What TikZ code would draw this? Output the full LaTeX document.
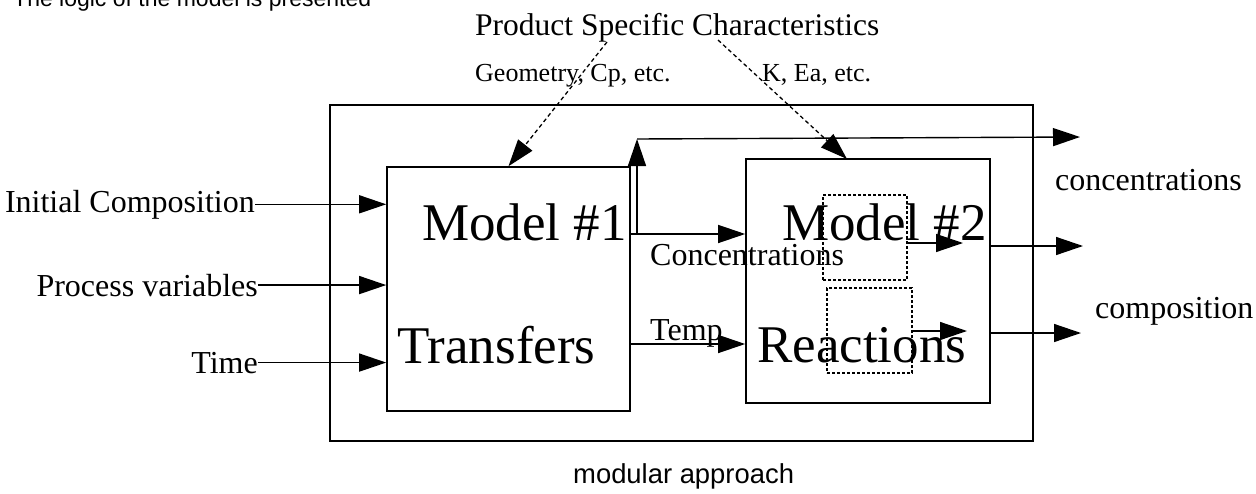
\documentclass[tikz,border=0pt]{standalone}
\usepackage{fontspec}
\setmainfont{Liberation Serif}
\newfontfamily\arialfont{Liberation Sans}
\usetikzlibrary{arrows.meta}
\tikzset{
  box/.style={draw, line width=1.6pt, inner sep=0pt},
  arr/.style={line width=1.4pt, -{Triangle[length=27pt,width=18pt]}},
  dasharr/.style={line width=1.3pt, dash pattern=on 4pt off 3pt, -{Triangle[length=27pt,width=18pt]}},
  dbox/.style={draw, line width=1.3pt, dash pattern=on 3pt off 2pt, inner sep=0pt},
  big/.style={font=\fontsize{53}{60}\selectfont, inner sep=0pt, anchor=base west},
  lab/.style={font=\fontsize{32}{36}\selectfont, inner sep=0pt, anchor=base west},
  slab/.style={font=\fontsize{26}{30}\selectfont, inner sep=0pt, anchor=base west},
}
\begin{document}
\begin{tikzpicture}[x=1pt,y=-1pt]
\useasboundingbox (0,0) rectangle (1256,493);
\fill[white] (0,0) rectangle (1256,493);

% clipped top line
\node[font=\arialfont\fontsize{23}{26}\selectfont, inner sep=0pt, anchor=base west] (topline) at (13,6) {The logic of the model is presented};

% boxes
\node[box, minimum width=703pt, minimum height=336pt] (outer) at (681.5,273) {};
\node[box, minimum width=243pt, minimum height=244pt] (m1) at (508.5,289) {};
\node[box, minimum width=244pt, minimum height=244pt] (m2) at (868,281) {};
\node[dbox, minimum width=84pt, minimum height=85pt] (d1) at (865,237.5) {};
\node[dbox, minimum width=85pt, minimum height=85pt] (d2) at (869.5,330.5) {};

% big texts
\node[big] (t1) at (422,240) {Model \#1};
\node[big] (t2) at (397,363) {Transfers};
\node[big] (t3) at (782,240) {Model \#2};
\node[big] (t4) at (757,362) {Reactions};

% top labels
\node[lab, font=\fontsize{31.5}{36}\selectfont] (psc) at (475,35) {Product Specific Characteristics};
\node[slab] (geo) at (475,81) {Geometry, Cp, etc.};
\node[slab] (kea) at (762,81) {K, Ea, etc.};
\coordinate (psc1) at (607,42);
\coordinate (psc2) at (718,40);
\coordinate (m2top) at (847,159);
\draw[dasharr] (psc1) -- (m1.north);
\draw[dasharr] (psc2) -- (m2top);

% inputs
\node[lab, anchor=base east, font=\fontsize{32}{36}\selectfont] (ic) at (255,212) {Initial Composition};
\node[lab, anchor=base east] (pv) at (258,296) {Process variables};
\node[lab, anchor=base east] (tm) at (258,373) {Time};
\draw[arr] (ic.east) -- (ic.east -| m1.west);
\draw[arr] (pv.east) -- (pv.east -| m1.west);
\draw[arr] (tm.east) -- (tm.east -| m1.west);

% between models
\node[lab] (conc) at (650,265) {Concentrations};
\node[lab] (temp) at (650,340) {Temp};
\draw[arr] (m1.east |- 0,234) -- (m2.west |- 0,234);
\draw[arr] (m1.east |- 0,344) -- (m2.west |- 0,344);

% feedback / top output
\coordinate (fb) at (637,234);
\coordinate (corner) at (637,139);
\coordinate (out1) at (1080,137);
\draw[arr] (fb) -- (corner);
\draw[arr] (corner) -- (out1);

% inner arrows
\coordinate (in1) at (963,243);
\coordinate (in2) at (967,331);
\draw[arr] (d1.east |- 0,243) -- (in1);
\draw[arr] (d2.east |- 0,331) -- (in2);

% outputs
\coordinate (out2) at (1083,246);
\coordinate (out3) at (1081,333);
\draw[arr] (m2.east |- 0,246) -- (out2);
\draw[arr] (m2.east |- 0,333) -- (out3);
\node[lab] (oconc) at (1055,190) {concentrations};
\node[lab] (ocomp) at (1095,318) {composition};

% caption
\node[font=\arialfont\fontsize{27.4}{30}\selectfont, inner sep=0pt, anchor=base west] (mod) at (573,483) {modular approach};
\end{tikzpicture}
\end{document}
